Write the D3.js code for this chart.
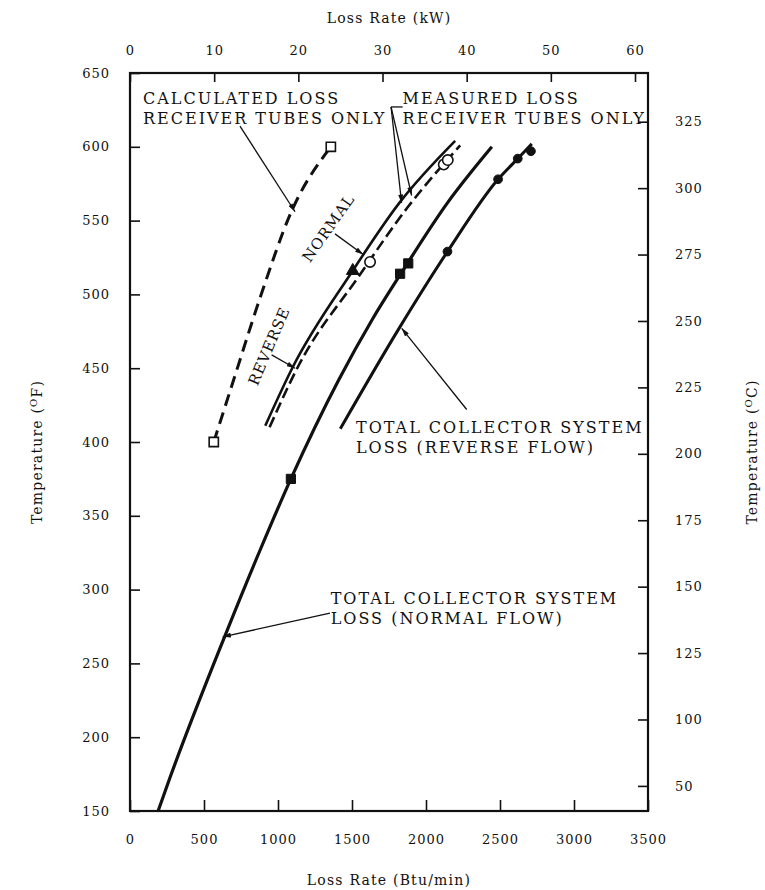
<!DOCTYPE html>
<html>
<head>
<meta charset="utf-8">
<script src="https://cdn.jsdelivr.net/npm/d3@7"></script>
<style>
  body { margin: 0; background: #fff; }
  text { font-family: "DejaVu Serif", serif; fill: #111; }
</style>
</head>
<body>
<svg id="chart" width="765" height="890"></svg>
<script>
// ---- values ----
const btuTicks = [0, 500, 1000, 1500, 2000, 2500, 3000, 3500];
const kwTicks = [0, 10, 20, 30, 40, 50, 60];
const tempFTicks = [150, 200, 250, 300, 350, 400, 450, 500, 550, 600, 650];
const tempCTicks = [75, 100, 125, 150, 175, 200, 225, 250, 275, 300, 325];
const tempCLabels = ["50", "100", "125", "150", "175", "200", "225", "250", "275", "300", "325"];

// calculated loss, receiver tubes only (dashed)
const calcBtu = [566, 700, 880, 1090, 1357];
const calcTemp = [400, 442, 498, 556, 600];
const calcMarkBtu = [566, 1357];
const calcMarkTemp = [400, 600];

// measured loss, receiver tubes only - normal (solid) / reverse (dashed)
const measNormalBtu = [914, 1101, 1498, 1820, 2197];
const measNormalTemp = [411, 451, 515, 562, 604];
const measNormalMarkBtu = [1505];
const measNormalMarkTemp = [516];

const measReverseBtu = [943, 1135, 1544, 1876, 2231];
const measReverseTemp = [410, 451, 512, 559, 601];
const measReverseMarkBtu = [1622, 2120, 2147];
const measReverseMarkTemp = [522, 588, 591];

// total collector system loss
const normalFlowBtu = [190, 268, 639, 880, 1087, 1410, 1637, 1830, 2145, 2445];
const normalFlowTemp = [150, 172, 268, 327, 375, 442, 483, 514, 562, 600];
const normalFlowMarkBtu = [1087, 1825, 1880];
const normalFlowMarkTemp = [375, 514, 521];

const reverseFlowBtu = [1421, 1818, 2145, 2487, 2620, 2715];
const reverseFlowTemp = [409, 477, 529, 578, 592, 602];
const reverseFlowMarkBtu = [2145, 2487, 2620, 2709];
const reverseFlowMarkTemp = [529, 578, 592, 597];

// annotations (data units)
const labelLines = [
  ["CALCULATED LOSS", "RECEIVER TUBES ONLY"],
  ["MEASURED LOSS", "RECEIVER TUBES ONLY"],
  ["TOTAL COLLECTOR SYSTEM", "LOSS (REVERSE FLOW)"],
  ["TOTAL COLLECTOR SYSTEM", "LOSS (NORMAL FLOW)"]
];
const labelBtu = [88, 1842, 1527, 1356];
const labelTemp = [629, 629, 406, 290];

const tiltText = ["NORMAL", "REVERSE"];
const tiltBtu = [1340, 939];
const tiltTemp = [545, 465];
const tiltAngle = [-55, -67];

const arrowFromBtu = [743, 1764, 1764, 1385, 957, 2275, 1351];
const arrowFromTemp = [614, 627, 627, 541, 459, 422, 284];
const arrowToBtu = [1115, 1835, 1903, 1576, 1115, 1836, 626];
const arrowToTemp = [556, 562, 567, 527, 450, 477, 268];

const BTU_PER_KW = 56.87;

// ---- layout ----
const margin = {top: 73, right: 117, bottom: 79, left: 130};
const W = 765, H = 890;
const svg = d3.select("#chart");

const x = d3.scaleLinear().domain([0, 3500]).range([margin.left, W - margin.right]);
const xKw = d3.scaleLinear().domain([0, 3500 / BTU_PER_KW]).range([margin.left, W - margin.right]);
const y = d3.scaleLinear().domain([150, 650]).range([H - margin.bottom, margin.top]);
const yC = d3.scaleLinear().domain([(150 - 32) / 1.8, (650 - 32) / 1.8]).range([H - margin.bottom, margin.top]);

const zip = (a, b) => a.map((v, i) => [v, b[i]]);

svg.append("defs").append("marker")
  .attr("id", "arrow")
  .attr("viewBox", "0 0 10 6")
  .attr("refX", 10).attr("refY", 3)
  .attr("markerWidth", 9).attr("markerHeight", 5)
  .attr("markerUnits", "userSpaceOnUse")
  .attr("orient", "auto")
  .append("path").attr("d", "M0,0L10,3L0,6Z").attr("fill", "#111");

// axes
const styleAxis = g => {
  g.select(".domain").remove();
  g.selectAll(".tick line").attr("stroke", "#111").attr("stroke-width", 1.6);
  g.selectAll(".tick text")
    .style("font-family", "'DejaVu Serif', serif")
    .style("font-size", "13px")
    .style("letter-spacing", "1px")
    .attr("fill", "#111");
};

svg.append("g")
  .attr("transform", `translate(0,${H - margin.bottom})`)
  .call(d3.axisBottom(x).tickValues(btuTicks).tickSizeInner(-11).tickSizeOuter(0).tickPadding(24).tickFormat(d3.format("d")))
  .call(styleAxis);

svg.append("g")
  .attr("transform", `translate(0,${margin.top})`)
  .call(d3.axisTop(xKw).tickValues(kwTicks).tickSizeInner(-9).tickSizeOuter(0).tickPadding(18).tickFormat(d3.format("d")))
  .call(styleAxis);

svg.append("g")
  .attr("transform", `translate(${margin.left},0)`)
  .call(d3.axisLeft(y).tickValues(tempFTicks).tickSizeInner(-10).tickSizeOuter(0).tickPadding(20))
  .call(styleAxis);

svg.append("g")
  .attr("transform", `translate(${W - margin.right},0)`)
  .call(d3.axisRight(yC).tickValues(tempCTicks).tickSizeInner(-10).tickSizeOuter(0).tickPadding(27)
    .tickFormat((d, i) => tempCLabels[i]))
  .call(styleAxis);

svg.append("rect")
  .attr("x", margin.left).attr("y", margin.top)
  .attr("width", W - margin.left - margin.right)
  .attr("height", H - margin.top - margin.bottom)
  .attr("fill", "none").attr("stroke", "#111").attr("stroke-width", 2.2);

// axis titles
const titleStyle = t => t.style("font-size", "14px").style("letter-spacing", "1.2px");
svg.append("text")
  .attr("x", (margin.left + W - margin.right) / 2).attr("y", 23)
  .attr("text-anchor", "middle").text("Loss Rate (kW)").call(titleStyle);
svg.append("text")
  .attr("x", (margin.left + W - margin.right) / 2).attr("y", 885)
  .attr("text-anchor", "middle").text("Loss Rate (Btu/min)").call(titleStyle);

function tempTitle(cx, cy, unit) {
  const t = svg.append("text")
    .attr("transform", `translate(${cx},${cy}) rotate(-90)`)
    .attr("text-anchor", "middle").call(titleStyle);
  t.append("tspan").text("Temperature (");
  t.append("tspan").attr("dy", -5).style("font-size", "10px").text("O");
  t.append("tspan").attr("dy", 5).text(unit + ")");
}
tempTitle(42, 452, "F");
tempTitle(757, 452, "C");

// curves
const line = d3.line().x(d => x(d[0])).y(d => y(d[1])).curve(d3.curveMonotoneX);

const plot = svg.append("g");
plot.append("path").datum(zip(calcBtu, calcTemp)).attr("d", line)
  .attr("fill", "none").attr("stroke", "#111").attr("stroke-width", 3).attr("stroke-dasharray", "12,7");
plot.append("path").datum(zip(measNormalBtu, measNormalTemp)).attr("d", line)
  .attr("fill", "none").attr("stroke", "#111").attr("stroke-width", 2.6);
plot.append("path").datum(zip(measReverseBtu, measReverseTemp)).attr("d", line)
  .attr("fill", "none").attr("stroke", "#111").attr("stroke-width", 2.6).attr("stroke-dasharray", "11,5");
plot.append("path").datum(zip(normalFlowBtu, normalFlowTemp)).attr("d", line)
  .attr("fill", "none").attr("stroke", "#111").attr("stroke-width", 3.2);
plot.append("path").datum(zip(reverseFlowBtu, reverseFlowTemp)).attr("d", line)
  .attr("fill", "none").attr("stroke", "#111").attr("stroke-width", 3);

// markers
const sq = d3.symbol().type(d3.symbolSquare).size(85);
const tri = d3.symbol().type(d3.symbolTriangle).size(70);
const dot = d3.symbol().type(d3.symbolCircle).size(60);
const ring = d3.symbol().type(d3.symbolCircle).size(85);

function marks(bx, ty, sym, fill) {
  plot.selectAll(null).data(zip(bx, ty)).join("path")
    .attr("transform", d => `translate(${x(d[0])},${y(d[1])})`)
    .attr("d", sym)
    .attr("fill", fill ? "#111" : "#fff")
    .attr("stroke", "#111").attr("stroke-width", fill ? 1 : 1.6);
}
marks(calcMarkBtu, calcMarkTemp, sq, false);
marks(measNormalMarkBtu, measNormalMarkTemp, tri, true);
marks(measReverseMarkBtu, measReverseMarkTemp, ring, false);
marks(normalFlowMarkBtu, normalFlowMarkTemp, sq, true);
marks(reverseFlowMarkBtu, reverseFlowMarkTemp, dot, true);

// annotations
const note = svg.append("g").style("font-size", "16px").style("letter-spacing", "2px");
labelLines.forEach((lines, i) => {
  const t = note.append("text").attr("x", x(labelBtu[i])).attr("y", y(labelTemp[i]));
  lines.forEach((s, j) => t.append("tspan").attr("x", x(labelBtu[i])).attr("dy", j ? 20 : 0).text(s));
});
tiltText.forEach((s, i) => {
  note.append("text")
    .attr("transform", `translate(${x(tiltBtu[i])},${y(tiltTemp[i])}) rotate(${tiltAngle[i]})`)
    .attr("text-anchor", "middle").attr("dy", "0.35em")
    .style("font-size", "15px").style("letter-spacing", "1px")
    .text(s);
});

svg.append("g").selectAll("line").data(arrowFromBtu).join("line")
  .attr("x1", (d, i) => x(arrowFromBtu[i])).attr("y1", (d, i) => y(arrowFromTemp[i]))
  .attr("x2", (d, i) => x(arrowToBtu[i])).attr("y2", (d, i) => y(arrowToTemp[i]))
  .attr("stroke", "#111").attr("stroke-width", 1.3)
  .attr("marker-end", "url(#arrow)");

// short bracket stub before "MEASURED LOSS"
svg.append("line")
  .attr("x1", x(arrowFromBtu[1])).attr("y1", y(arrowFromTemp[1]))
  .attr("x2", x(labelBtu[1])).attr("y2", y(arrowFromTemp[1]))
  .attr("stroke", "#111").attr("stroke-width", 1.3);
</script>
</body>
</html>
